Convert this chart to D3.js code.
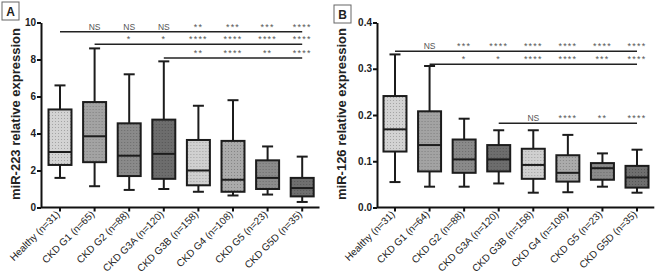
<!DOCTYPE html>
<html lang="en">
<head>
<meta charset="utf-8">
<style>
  body { margin: 0; background: #fff; }
  svg { display: block; font-family: "Liberation Sans", Arial, sans-serif; }
</style>
</head>
<body>
<script src="https://d3js.org/d3.v7.min.js"></script>
<svg width="656" height="276"></svg>
<script>
// categories
var labelsA = ["Healthy (n=31)", "CKD G1 (n=65)", "CKD G2 (n=88)", "CKD G3A (n=120)",
    "CKD G3B (n=158)", "CKD G4 (n=108)", "CKD G5 (n=23)", "CKD G5D (n=35)"];
var labelsB = ["Healthy (n=31)", "CKD G1 (n=64)", "CKD G2 (n=88)", "CKD G3A (n=120)",
    "CKD G3B (n=158)", "CKD G4 (n=108)", "CKD G5 (n=23)", "CKD G5D (n=35)"];

// miR-223 box values
var mir223Min = [1.6, 1.15, 0.95, 1.0, 0.85, 0.65, 0.7, 0.3];
var mir223Q1 = [2.3, 2.45, 1.7, 1.55, 1.2, 0.85, 1.0, 0.6];
var mir223Med = [3.0, 3.85, 2.8, 2.9, 2.0, 1.5, 1.6, 1.05];
var mir223Q3 = [5.3, 5.7, 4.55, 4.75, 3.65, 3.6, 2.55, 1.6];
var mir223Max = [6.6, 8.6, 7.2, 7.9, 5.5, 5.8, 3.3, 2.75];

// miR-126 box values
var mir126Min = [0.055, 0.045, 0.045, 0.052, 0.032, 0.033, 0.045, 0.032];
var mir126Q1 = [0.121, 0.078, 0.075, 0.078, 0.062, 0.056, 0.06, 0.043];
var mir126Med = [0.169, 0.135, 0.104, 0.104, 0.092, 0.075, 0.085, 0.065];
var mir126Q3 = [0.241, 0.208, 0.147, 0.135, 0.127, 0.113, 0.096, 0.09];
var mir126Max = [0.331, 0.306, 0.192, 0.167, 0.167, 0.157, 0.117, 0.125];

// tick labels
var ticksA = [0, 2, 4, 6, 8, 10];
var ticksB = [0, 0.1, 0.2, 0.3, 0.4];

// significance rows (level in data units, first group of the bar, label per group)
var sigLevelsA = [9.5, 8.82, 8.08];
var sigStartA = [0, 1, 3];
var sigA1 = ["", "NS", "NS", "NS", "**", "***", "***", "****"];
var sigA2 = ["", "", "*", "*", "****", "****", "****", "****"];
var sigA3 = ["", "", "", "", "**", "****", "**", "****"];

var sigLevelsB = [0.338, 0.31, 0.182];
var sigStartB = [0, 1, 3];
var sigB1 = ["", "NS", "***", "****", "****", "****", "****", "****"];
var sigB2 = ["", "", "*", "*", "****", "****", "***", "****"];
var sigB3 = ["", "", "", "", "NS", "****", "**", "****"];

var shades = ["#d3d3d3", "#a3a3a3", "#8a8a8a", "#6d6d6d", "#d0d0d0", "#ababab", "#8b8b8b", "#6f6f6f"];

var svg = d3.select("svg");
var defs = svg.append("defs");

shades.forEach(function (c, i) {
    var p = defs.append("pattern")
        .attr("id", "dots" + i)
        .attr("patternUnits", "userSpaceOnUse")
        .attr("width", 3).attr("height", 3);
    p.append("rect").attr("width", 3).attr("height", 3).attr("fill", c);
    p.append("rect").attr("x", 1).attr("y", 1).attr("width", 1).attr("height", 1)
        .attr("fill", d3.color(c).darker(0.7));
});

function drawPanel(opt) {
    var g = svg.append("g");

    var x = d3.scaleBand().domain(opt.labels).range(opt.xRange).padding(0);
    var y = d3.scaleLinear().domain(opt.yDomain).range([207.5, 22.5]);

    var rows = opt.labels.map(function (d, i) {
        return { name: d, i: i, min: opt.min[i], q1: opt.q1[i], med: opt.med[i], q3: opt.q3[i], max: opt.max[i] };
    });

    var bw = 23, cap = 11;

    var box = g.selectAll(".box").data(rows).enter().append("g").attr("class", "box")
        .attr("transform", function (d) { return "translate(" + (x(d.name) + x.bandwidth() / 2) + ",0)"; });

    box.append("line")
        .attr("x1", 0).attr("x2", 0)
        .attr("y1", function (d) { return y(d.max); })
        .attr("y2", function (d) { return y(d.min); })
        .attr("stroke", "#1c1c1c").attr("stroke-width", 2);
    box.append("line")
        .attr("x1", -cap / 2).attr("x2", cap / 2)
        .attr("y1", function (d) { return y(d.max); })
        .attr("y2", function (d) { return y(d.max); })
        .attr("stroke", "#1c1c1c").attr("stroke-width", 2);
    box.append("line")
        .attr("x1", -cap / 2).attr("x2", cap / 2)
        .attr("y1", function (d) { return y(d.min); })
        .attr("y2", function (d) { return y(d.min); })
        .attr("stroke", "#1c1c1c").attr("stroke-width", 2);
    box.append("rect")
        .attr("x", -bw / 2).attr("width", bw)
        .attr("y", function (d) { return y(d.q3); })
        .attr("height", function (d) { return y(d.q1) - y(d.q3); })
        .attr("fill", function (d) { return "url(#dots" + d.i + ")"; })
        .attr("stroke", "#1c1c1c").attr("stroke-width", 2);
    box.append("line")
        .attr("x1", -bw / 2).attr("x2", bw / 2)
        .attr("y1", function (d) { return y(d.med); })
        .attr("y2", function (d) { return y(d.med); })
        .attr("stroke", "#1c1c1c").attr("stroke-width", 2);

    // axes
    var yAxis = g.append("g")
        .attr("transform", "translate(" + opt.yAxisX + ",0)")
        .call(d3.axisLeft(y).tickValues(opt.ticks).tickFormat(opt.fmt).tickSize(4).tickSizeOuter(0));
    yAxis.select(".domain").attr("stroke", "#111").attr("stroke-width", 2);
    yAxis.selectAll(".tick line").attr("stroke", "#111").attr("stroke-width", 2);
    yAxis.selectAll(".tick text")
        .attr("x", -5)
        .attr("font-size", 10).attr("font-weight", "bold").attr("fill", "#222")
        .attr("font-family", "Liberation Sans, Arial, sans-serif");

    var xAxis = g.append("g")
        .attr("transform", "translate(0,207.5)")
        .call(d3.axisBottom(x).tickSize(4).tickSizeOuter(0));
    xAxis.select(".domain").attr("d", "M" + opt.yAxisX + ",0H" + opt.xRange[1])
        .attr("stroke", "#111").attr("stroke-width", 2);
    xAxis.selectAll(".tick line").attr("stroke", "#111").attr("stroke-width", 2);
    xAxis.selectAll(".tick text")
        .attr("font-size", 10).attr("fill", "#222")
        .attr("font-family", "Liberation Sans, Arial, sans-serif")
        .attr("text-anchor", "end")
        .attr("x", 0).attr("y", 0).attr("dy", "0.35em")
        .attr("transform", "translate(-2,5) rotate(-45)");

    // y title
    g.append("text")
        .attr("transform", "translate(" + opt.titleX + ",114) rotate(-90)")
        .attr("text-anchor", "middle")
        .attr("font-size", 13).attr("font-weight", "bold").attr("fill", "#222")
        .text(opt.title);

    // significance bars
    opt.sigRows.forEach(function (row, k) {
        var lev = y(opt.sigLevels[k]);
        var x0 = x(opt.labels[opt.sigStart[k]]) + x.bandwidth() / 2;
        var x1 = x(opt.labels[opt.labels.length - 1]) + x.bandwidth() / 2;
        g.append("line")
            .attr("x1", x0).attr("x2", x1).attr("y1", lev).attr("y2", lev)
            .attr("stroke", "#222").attr("stroke-width", 1.5);
        g.selectAll(".sig" + k).data(row).enter().append("text")
            .attr("x", function (d, i) { return x(opt.labels[i]) + x.bandwidth() / 2; })
            .attr("y", lev - 2)
            .attr("text-anchor", "middle")
            .attr("font-size", function (d) { return d === "NS" ? 8.5 : 9; })
            .attr("letter-spacing", function (d) { return d === "NS" ? 0 : 1.2; })
            .attr("fill", "#555")
            .text(function (d) { return d; });
    });

    // panel letter
    g.append("rect")
        .attr("x", opt.letterBox[0]).attr("y", opt.letterBox[1])
        .attr("width", 17).attr("height", 18)
        .attr("fill", "#fff").attr("stroke", "#666").attr("stroke-width", 1);
    g.append("text")
        .attr("x", opt.letterBox[0] + 8.5).attr("y", opt.letterBox[1] + 13.5)
        .attr("text-anchor", "middle")
        .attr("font-size", 12).attr("font-weight", "bold").attr("fill", "#222")
        .text(opt.letter);
}

drawPanel({
    labels: labelsA, min: mir223Min, q1: mir223Q1, med: mir223Med, q3: mir223Q3, max: mir223Max,
    xRange: [42.7, 319.5], yDomain: [0, 10], ticks: ticksA, fmt: d3.format("d"),
    yAxisX: 41, titleX: 20, title: "miR-223 relative expression",
    sigLevels: sigLevelsA, sigStart: sigStartA, sigRows: [sigA1, sigA2, sigA3],
    letterBox: [2, 2], letter: "A"
});

drawPanel({
    labels: labelsB, min: mir126Min, q1: mir126Q1, med: mir126Med, q3: mir126Q3, max: mir126Max,
    xRange: [377.7, 654.3], yDomain: [0, 0.4], ticks: ticksB, fmt: d3.format(".1f"),
    yAxisX: 377, titleX: 346, title: "miR-126 relative expression",
    sigLevels: sigLevelsB, sigStart: sigStartB, sigRows: [sigB1, sigB2, sigB3],
    letterBox: [334, 5], letter: "B"
});
</script>
</body>
</html>
